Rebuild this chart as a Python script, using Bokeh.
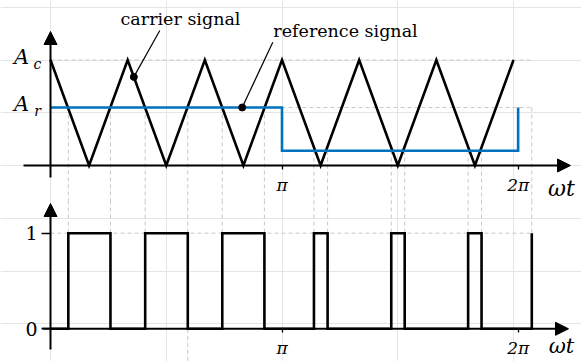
from bokeh.plotting import figure
from bokeh.models import Range1d, LinearAxis, FixedTicker, Arrow, NormalHead
from bokeh.core.properties import value
from bokeh.embed import file_html
from bokeh.resources import INLINE

# ---------------- data (x in units of pi) ----------------
carrier_x = [0.0, 0.1667, 0.3333, 0.5, 0.6667, 0.8333, 1.0, 1.1667, 1.3333, 1.5, 1.6667, 1.8333, 2.0]
carrier_y = [1, 0, 1, 0, 1, 0, 1, 0, 1, 0, 1, 0, 1]
ref_x = [0.0, 1.0, 1.0, 2.02, 2.02]
ref_y = [0.55, 0.55, 0.14, 0.14, 0.55]
pwm_x = [0.0, 0.077, 0.259, 0.409, 0.593, 0.742, 0.924, 1.138, 1.197, 1.472, 1.530, 1.804, 1.862, 2.079]
pwm_y = [0, 1, 0, 1, 0, 1, 0, 1, 0, 1, 0, 1, 0, 1]
switch_level = [0.55] * 6 + [0.14] * 6 + [0.55]
x_ticks = [1.0, 2.02]
x_tick_labels = ["π", "2π"]
y_top_ticks = [1.0, 0.55]
y_top_main = ["A", "A"]
y_top_sub = ["c", "r"]
y_bot_ticks = [0, 1]
carrier_dot = (0.36, 0.84)
ref_dot = (0.828, 0.55)

# ---------------- layout helpers (pixel -> data) ----------------
W, H = 581, 361
OX, OY = 0, 0
X0, XS = 50.0, 231.5
TY0, TYS = 165.0, 105.5
BY0, BYS = 328.3, 95.6


def xr(px):
    return (px - X0) / XS


def tyr(py):
    return (TY0 - py) / TYS


def byr(py):
    return (BY0 - py) / BYS


FONT_NAME = "DejaVu Serif"
SERIF = value(FONT_NAME)
GRAY = "#c8c8c8"
DASH = "4 3"
BLUE = "#0072BD"

p = figure(width=W, height=H, output_backend="svg", toolbar_location=None,
           x_range=Range1d(xr(OX), xr(OX + W)), y_range=Range1d(tyr(OY + H), tyr(OY)),
           x_axis_location=None, y_axis_location=None, min_border=0,
           outline_line_color=None)
p.extra_y_ranges = {"pwm": Range1d(byr(OY + H), byr(OY))}

# ---------------- dashed guide lines ----------------
sw_x = pwm_x[1:]
gap = 200
p.segment(x0=sw_x, y0=switch_level, x1=sw_x, y1=[tyr(gap)] * len(sw_x),
          line_color=GRAY, line_dash=DASH, line_width=1)
p.segment(x0=sw_x, y0=[byr(gap)] * len(sw_x), x1=sw_x, y1=[1] * len(sw_x),
          line_color=GRAY, line_dash=DASH, line_width=1, y_range_name="pwm")
xend = pwm_x[-1]
p.segment(x0=[0, 0], y0=y_top_ticks, x1=[xend, xend], y1=y_top_ticks,
          line_color=GRAY, line_dash=DASH, line_width=1)
p.segment(x0=[0], y0=[1], x1=[xend], y1=[1],
          line_color=GRAY, line_dash=DASH, line_width=1, y_range_name="pwm")
p.segment(x0=[pwm_x[4]], y0=[0], x1=[pwm_x[4]], y1=[byr(OY + H)],
          line_color=GRAY, line_dash=DASH, line_width=1, y_range_name="pwm")

# ---------------- signals ----------------
p.line(carrier_x, carrier_y, line_color="black", line_width=2.6, line_join="miter")
p.line(ref_x, ref_y, line_color=BLUE, line_width=2.6, line_join="miter")
p.step(pwm_x, pwm_y, mode="after", y_range_name="pwm", line_color="black",
       line_width=2.6, line_join="miter")


# ---------------- axes (arrows) ----------------
def head():
    return NormalHead(size=13, fill_color="black", line_color="black", line_width=1)


p.add_layout(Arrow(end=head(), x_start=xr(23), y_start=0, x_end=xr(570), y_end=0,
                   line_width=2, line_color="black"))
p.add_layout(Arrow(end=head(), x_start=0, y_start=tyr(177), x_end=0, y_end=tyr(31),
                   line_width=2, line_color="black"))
p.add_layout(Arrow(end=head(), x_start=xr(42), y_start=0, x_end=xr(568), y_end=0,
                   line_width=2, line_color="black", y_range_name="pwm"))
p.add_layout(Arrow(end=head(), x_start=0, y_start=byr(349), x_end=0, y_end=byr(203),
                   line_width=2, line_color="black", y_range_name="pwm"))

for rng in ["default", "pwm"]:
    ax = LinearAxis(fixed_location=0, y_range_name=rng, ticker=FixedTicker(ticks=x_ticks),
                    major_label_overrides=dict(zip(x_ticks, x_tick_labels)),
                    axis_line_color=None, major_tick_in=0, major_tick_out=4,
                    major_tick_line_width=1.3, minor_tick_line_color=None,
                    major_label_standoff=5, major_label_text_font=FONT_NAME,
                    major_label_text_font_style="italic", major_label_text_font_size="17px",
                    major_label_text_color="black")
    p.add_layout(ax, "below")

yax = LinearAxis(fixed_location=0, y_range_name="pwm", ticker=FixedTicker(ticks=y_bot_ticks),
                 axis_line_color=None, major_tick_in=0, major_tick_out=9,
                 major_tick_line_width=1.3, minor_tick_line_color=None,
                 major_label_standoff=4, major_label_text_font=FONT_NAME,
                 major_label_text_font_size="19px", major_label_text_color="black")
p.add_layout(yax, "left")

# ---------------- labels ----------------
TXT = dict(text_font=SERIF, text_align="center", text_baseline="middle", text_color="black")
p.text(x=[xr(21), xr(21)], y=[tyr(56.5), tyr(103.5)], text=y_top_main,
       text_font_style="italic", text_font_size="21px", **TXT)
p.text(x=[xr(37), xr(37)], y=[tyr(63), tyr(110.5)], text=y_top_sub,
       text_font_style="italic", text_font_size="14px", **TXT)
p.text(x=[xr(561)], y=[tyr(187.5)], text=["ωt"], text_font_style="italic",
       text_font_size="22px", **TXT)
p.text(x=[xr(561)], y=[byr(345.5)], text=["ωt"], text_font_style="italic",
       text_font_size="21px", y_range_name="pwm", **TXT)

# annotations
p.text(x=[xr(180)], y=[tyr(18)], text=["carrier signal"], text_font_size="17.5px", **TXT)
p.text(x=[xr(345)], y=[tyr(30.5)], text=["reference signal"], text_font_size="17.5px", **TXT)
p.segment(x0=[xr(159.3), xr(272.3)], y0=[tyr(30), tyr(41.7)],
          x1=[carrier_dot[0], ref_dot[0]], y1=[carrier_dot[1], ref_dot[1]],
          line_color="black", line_width=1.2)
p.scatter(x=[carrier_dot[0], ref_dot[0]], y=[carrier_dot[1], ref_dot[1]], size=7,
          fill_color="black", line_color="black")

open("out.html", "w").write(file_html(p, INLINE))
